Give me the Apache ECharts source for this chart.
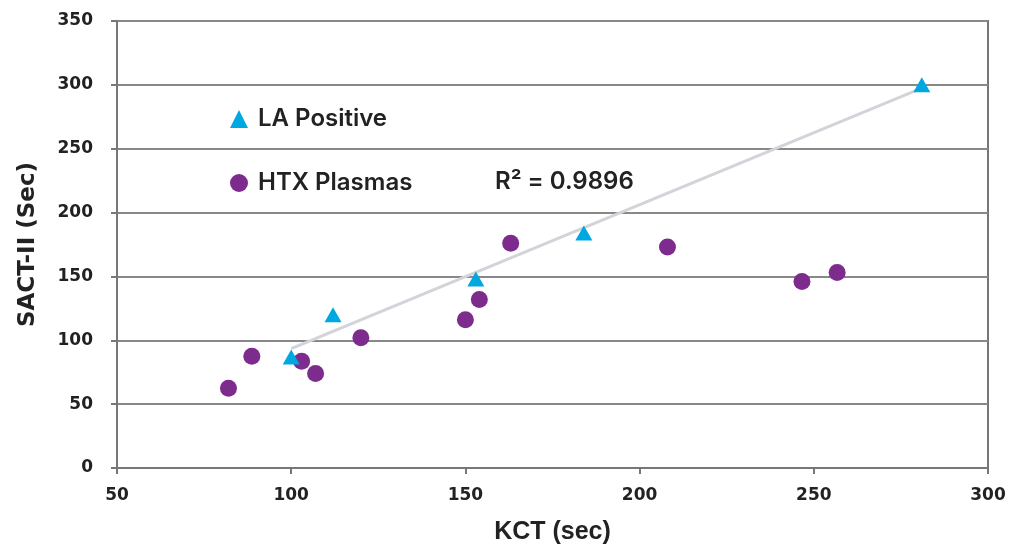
<!DOCTYPE html>
<html>
<head>
<meta charset="utf-8">
<script src="https://cdn.jsdelivr.net/npm/echarts@6/dist/echarts.min.js"></script>
<style>
  html, body { margin: 0; padding: 0; background: #fff; }
  #main { width: 1009px; height: 545px; }
</style>
</head>
<body>
<div id="main"></div>
<script>
// LA Positive samples (KCT sec, SACT-II sec)
const laKct = [100, 112, 153, 184, 281];
const laSact = [87, 120, 148, 184, 300];
// HTX plasmas
const htxKct = [82, 88.7, 103, 107, 120, 150, 154, 163, 208, 246.6, 256.7];
const htxSact = [62.5, 87.5, 83.6, 74, 102, 116, 132, 176, 173, 146, 153];
// trend line end points as drawn
const trendKct = [100, 281];
const trendSact = [93.5, 297.5];
const r2Label = "R\u00B2 = 0.9896";

const zip = (xs, ys) => xs.map((x, i) => [x, ys[i]]);

var myChart = echarts.init(document.getElementById("main"));
const axisFont = { fontFamily: "DejaVu Sans", fontWeight: 700, fontSize: 17, color: "#222" };

const options = {
  animation: false,
  grid: {
    left: 117, right: 21, top: 21, bottom: 77,
    outerBoundsMode: "none",
    show: true, borderColor: "#777", borderWidth: 2
  },
  legend: {
    orient: "vertical",
    left: 225, top: 102,
    itemGap: 40,
    itemWidth: 18, itemHeight: 18,
    textStyle: { fontFamily: "Inter", fontWeight: 600, fontSize: 24, color: "#222", padding: [0, 0, 0, 5] },
    data: ["LA Positive", "HTX Plasmas"]
  },
  xAxis: {
    type: "value", min: 50, max: 300, interval: 50,
    name: "KCT (sec)", nameLocation: "middle", nameGap: 52,
    nameTextStyle: { fontFamily: "Liberation Sans Narrow, Liberation Sans", fontWeight: 700, fontSize: 25, color: "#222" },
    axisLine: { show: true, onZero: false, lineStyle: { color: "#777", width: 2 } },
    axisTick: { show: true, length: 6, lineStyle: { color: "#777", width: 2 } },
    axisLabel: Object.assign({ margin: 19 }, axisFont),
    splitLine: { show: false }
  },
  yAxis: {
    type: "value", min: 0, max: 350, interval: 50,
    name: "SACT-II (Sec)", nameLocation: "middle", nameGap: 77,
    nameTextStyle: { fontFamily: "DejaVu Sans", fontWeight: 700, fontSize: 23, color: "#222" },
    axisLine: { show: true, lineStyle: { color: "#777", width: 2 } },
    axisTick: { show: true, length: 6, lineStyle: { color: "#777", width: 2 } },
    axisLabel: Object.assign({ margin: 24 }, axisFont),
    splitLine: { show: true, lineStyle: { color: "#888", width: 2 } }
  },
  series: [
    {
      name: "Trend",
      type: "line",
      data: zip(trendKct, trendSact),
      symbol: "none",
      lineStyle: { color: "#d3d3da", width: 3 },
      z: 1,
      silent: true
    },
    {
      name: "HTX Plasmas",
      type: "scatter",
      data: zip(htxKct, htxSact),
      symbol: "circle",
      symbolSize: 17,
      itemStyle: { color: "#7e2b8e", opacity: 1 },
      z: 3
    },
    {
      name: "LA Positive",
      type: "scatter",
      data: zip(laKct, laSact),
      symbol: "triangle",
      symbolSize: [17, 15],
      itemStyle: { color: "#00a8e1", opacity: 1 },
      z: 4
    }
  ],
  graphic: [
    {
      type: "text", left: 495, top: 170,
      style: { text: r2Label, fontFamily: "Inter", fontWeight: 600, fontSize: 24, fill: "#222" }
    }
  ]
};
myChart.setOption(options);
window.onresize = function() { myChart.resize(); };
</script>
</body>
</html>
